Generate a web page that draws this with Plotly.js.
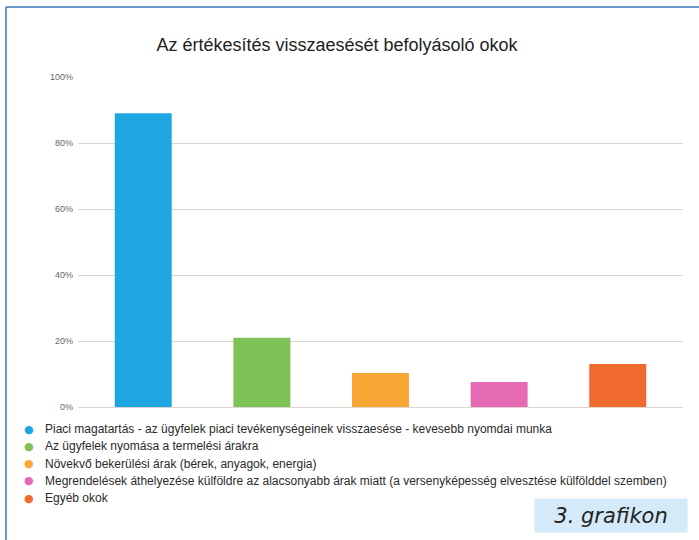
<!DOCTYPE html>
<html>
<head>
<meta charset="utf-8">
<script src="https://cdn.plot.ly/plotly-3.0.1.min.js"></script>
<style>
  html, body { margin: 0; padding: 0; background: #ffffff; }
  #chart { width: 699px; height: 540px; }
</style>
</head>
<body>
<div id="chart"></div>
<script>
// ---- data ----
const categories = [
  "Piaci magatartás - az ügyfelek piaci tevékenységeinek visszaesése - kevesebb nyomdai munka",
  "Az ügyfelek nyomása a termelési árakra",
  "Növekvő bekerülési árak (bérek, anyagok, energia)",
  "Megrendelések áthelyezése külföldre az alacsonyabb árak miatt (a versenyképesség elvesztése külfölddel szemben)",
  "Egyéb okok"
];
const values = [89, 21, 10.3, 7.6, 13];
const colors = ["#1ea6e0", "#7dc254", "#f8a735", "#e569b3", "#ef6a2c"];
const tickVals = [0, 20, 40, 60, 80, 100];
const tickText = ["0%", "20%", "40%", "60%", "80%", "100%"];
const chartTitle = "Az értékesítés visszaesését befolyásoló okok";
const badge = "3. grafikon";

// ---- layout helpers (pixel -> paper) ----
const W = 699, H = 540;
const M = {l: 78, r: 16, t: 77, b: 133};
const pw = W - M.l - M.r, ph = H - M.t - M.b;
const px = x => (x - M.l) / pw;
const py = y => (H - M.b - y) / ph;

const bar = {
  type: "bar",
  x: categories,
  y: values,
  marker: {color: colors, line: {width: 0}},
  showlegend: false,
  hoverinfo: "y"
};

const annotations = [];
const rowTop = 429, rowStep = 17.3;
categories.forEach((c, i) => {
  const yy = py(rowTop + i * rowStep);
  annotations.push({
    xref: "paper", yref: "paper", x: px(29), y: yy,
    xanchor: "center", yanchor: "middle", showarrow: false,
    text: "●", font: {family: "DejaVu Sans", size: 11, color: colors[i]}
  });
  annotations.push({
    xref: "paper", yref: "paper", x: px(43), y: yy,
    xanchor: "left", yanchor: "middle", showarrow: false,
    text: c, font: {family: "Liberation Sans, Arial, sans-serif", size: 12, color: "#2a2a2a"}
  });
});
annotations.push({
  xref: "paper", yref: "paper", x: px(611), y: py(515.5),
  xanchor: "center", yanchor: "middle", showarrow: false,
  width: 152, height: 33, borderpad: 0, bgcolor: "#d4eaf9",
  text: "<i>" + badge + "</i>",
  font: {family: "DejaVu Sans", size: 21, color: "#222222"}
});

const layout = {
  width: W, height: H,
  margin: M,
  paper_bgcolor: "#ffffff",
  plot_bgcolor: "#ffffff",
  title: {
    text: chartTitle,
    xref: "container", yref: "container",
    x: 337 / W, y: 1 - 45 / H, xanchor: "center", yanchor: "middle",
    font: {family: "Liberation Sans, Arial, sans-serif", size: 18, color: "#222222"}
  },
  bargap: 0.52,
  xaxis: {
    type: "category",
    range: [-0.55, 4.55],
    showticklabels: false,
    showgrid: false, zeroline: false, showline: false, ticks: ""
  },
  yaxis: {
    range: [0, 100],
    tickvals: tickVals, ticktext: tickText,
    showgrid: true, gridcolor: "#ddd5d2", gridwidth: 1,
    zeroline: true, zerolinecolor: "#ddd5d2", zerolinewidth: 1,
    showline: false, ticks: "",
    ticklabelstandoff: 4,
    tickfont: {family: "Liberation Sans, Arial, sans-serif", size: 9, color: "#666666"}
  },
  annotations: annotations,
  shapes: [
    {type: "line", xref: "paper", yref: "paper", x0: px(6), x1: px(699), y0: py(7), y1: py(7),
     line: {color: "#3a76b6", width: 1.5}},
    {type: "line", xref: "paper", yref: "paper", x0: px(6), x1: px(6), y0: py(7), y1: py(540),
     line: {color: "#3a76b6", width: 1.5}}
  ]
};

Plotly.newPlot("chart", [bar], layout, {displayModeBar: false, staticPlot: true});
</script>
</body>
</html>
